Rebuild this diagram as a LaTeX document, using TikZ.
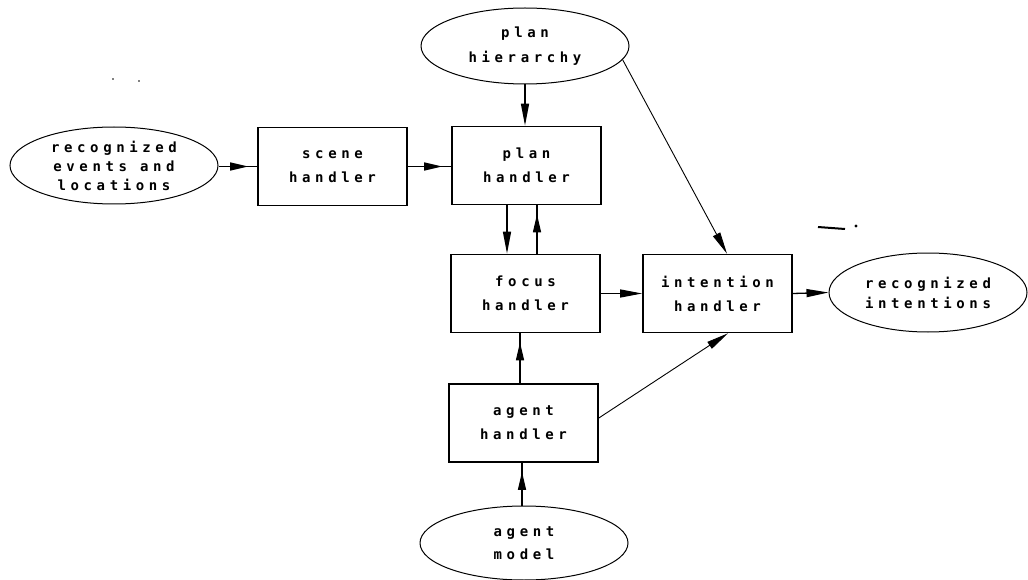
\documentclass[tikz,border=0pt]{standalone}
\usepackage{fontspec}
\newfontfamily\dotfont[LetterSpace=33]{DejaVu Sans Mono}
\usetikzlibrary{arrows.meta,shapes.geometric,decorations.markings}
\begin{document}
\begin{tikzpicture}[x=1pt,y=-1pt,
  txt/.style={font={\dotfont\bfseries\fontsize{14}{24}\selectfont},align=center,inner sep=0pt},
  etxt/.style={font={\dotfont\bfseries\fontsize{14}{21}\selectfont},align=center,inner sep=0pt},
  box/.style={draw,line width=1.6pt,minimum width=149pt,minimum height=78pt,inner sep=0pt},
  oval/.style={draw,ellipse,line width=1pt,minimum width=208pt,minimum height=77pt,inner sep=0pt},
  tip/.style={-{Triangle[length=22pt,width=8pt]}},
  con/.style={line width=1.3pt,tip},
  diag/.style={line width=0.9pt,tip},
  gaptip/.style={line width=1.3pt,decoration={markings,mark=at position -9pt with {\arrow{Triangle[length=18pt,width=8pt]}}},postaction={decorate}}
]
\useasboundingbox (0,0) rectangle (1028,580);
% boxes
\node[box] (sc) at (332.5,166.5) {};
\node[txt] (sct) at (sc) {scene\\handler};
\node[box] (pl) at (526.5,165.5) {};
\node[txt] (plt) at (pl) {plan\\handler};
\node[box] (fo) at (525.5,293.5) {};
\node[txt] (fot) at (fo) {focus\\handler};
\node[box] (in) at (717.5,293.5) {};
\node[txt] (int) at (in) {intention\\handler};
\node[box] (ag) at (523.5,423) {};
\node[txt] (agt) at (ag) {agent\\handler};
% ellipses
\node[oval,minimum height=76pt] (ph) at (525,46) {};
\node[txt,font={\dotfont\bfseries\fontsize{14}{25}\selectfont}] (pht) at (ph) {plan\\hierarchy};
\node[oval] (ev) at (114,165.5) {};
\node[etxt,font={\dotfont\bfseries\fontsize{14}{19}\selectfont}] (evt) at (ev) {recognized\\events and\\locations};
\node[oval,minimum width=198pt,minimum height=79pt] (ri) at (928,292.5) {};
\node[etxt,font={\dotfont\bfseries\fontsize{14}{20}\selectfont}] (rit) at (ri) {recognized\\intentions};
\node[oval,minimum height=74pt] (am) at (524,543) {};
\node[etxt,font={\dotfont\bfseries\fontsize{14}{23}\selectfont}] (amt) at (am) {agent\\model};
% connectors
\draw[gaptip] (ev.east |- sc.west) -- (sc.west);
\draw[gaptip] (sc.east) -- (sc.east -| pl.west);
\draw[con] (ph.south) -- (ph.south |- pl.north);
\draw[con] ([xshift=-19.5pt]pl.south) -- ([xshift=-19.5pt]pl.south |- fo.north);
\draw[gaptip] ([xshift=10.5pt]pl.south |- fo.north) -- ([xshift=10.5pt]pl.south);
\draw[con] (fo.east) -- (in.west);
\draw[con] (in.east) -- (ri.west);
\draw[gaptip] ([xshift=-3.5pt]ag.north) -- ([xshift=-3.5pt]ag.north |- fo.south);
\draw[gaptip] ([xshift=-1.5pt]ag.south |- am.north) -- ([xshift=-1.5pt]ag.south);
\draw[diag] (ph.-8) -- ([xshift=9.5pt]in.north);
\draw[diag] ([yshift=5pt]ag.east) -- ([xshift=10.5pt]in.south);
% scan specks
\draw[line width=2pt] (818,227) -- (845,229);
\fill (856,226) circle (1.6pt);
\fill (113,79) circle (0.8pt);
\fill (139,81) circle (0.8pt);
\end{tikzpicture}
\end{document}
